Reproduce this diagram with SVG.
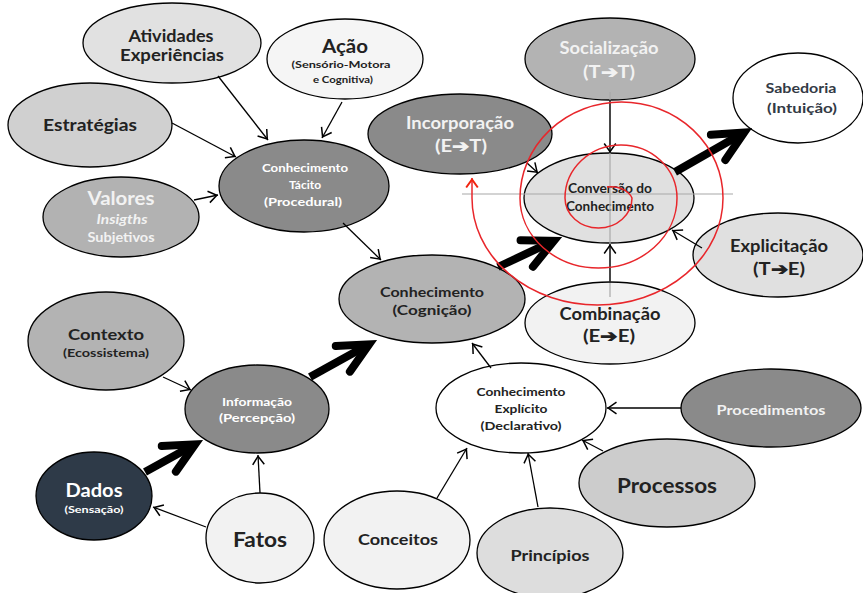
<svg xmlns="http://www.w3.org/2000/svg" width="863" height="593" viewBox="0 0 863 593">
  <style>
    .n { stroke: #000; stroke-width: 1.3; }
    text { font-family: Lato, "Open Sans", "Liberation Sans", sans-serif; font-weight: bold; text-anchor: middle; fill: #222; }
    .w { fill: #ffffff; }
    .lw { fill: #f2f2f2; }
    .thin { stroke: #000; stroke-width: 1.3; fill: none; marker-end: url(#ah); }
    .thick { stroke: #000; stroke-width: 8; fill: none; marker-end: url(#bh); }
    .cross { stroke: #a8a8a8; stroke-width: 1.2; fill: none; }
    .spiral { stroke: #e8262b; stroke-width: 1.5; fill: none; }
  </style>
  <defs>
    <marker id="ah" markerUnits="userSpaceOnUse" viewBox="-12 -8 14 16" markerWidth="14" markerHeight="16" refX="0" refY="0" orient="auto" overflow="visible">
      <path d="M-9.5,-5.8 L-1.2,0 L-9.5,5.8" fill="none" stroke="#000" stroke-width="1.5"/>
    </marker>
    <marker id="rh" markerUnits="userSpaceOnUse" viewBox="-12 -8 14 16" markerWidth="14" markerHeight="16" refX="0" refY="0" orient="auto" overflow="visible">
      <path d="M-9.5,-5.8 L-1.5,0 L-9.5,5.8" fill="none" stroke="#f2240f" stroke-width="2"/>
    </marker>
    <marker id="bh" markerUnits="userSpaceOnUse" viewBox="-40 -20 52 40" markerWidth="52" markerHeight="40" refX="0" refY="0" orient="auto" overflow="visible">
      <path d="M-29,-14.6 L1,0 L-29,14.6" fill="none" stroke="#000" stroke-width="8" stroke-linecap="round" stroke-linejoin="miter"/>
    </marker>
  </defs>

  <g id="atividades">
    <ellipse class="n" cx="172" cy="43" rx="89" ry="40" fill="#e1e1e1"/>
    <text x="171" y="42" font-size="17.5" textLength="85" lengthAdjust="spacingAndGlyphs">Atividades</text>
    <text x="172" y="61" font-size="17.5" textLength="104" lengthAdjust="spacingAndGlyphs">Experiências</text>
  </g>
  <g id="acao">
    <ellipse class="n" cx="345" cy="59" rx="78" ry="40" fill="#f5f5f5"/>
    <text x="345" y="53" font-size="18.5" textLength="46" lengthAdjust="spacingAndGlyphs">Ação</text>
    <text x="341" y="68" font-size="10" textLength="99" lengthAdjust="spacingAndGlyphs">(Sensório-Motora</text>
    <text x="343" y="83" font-size="10" textLength="60" lengthAdjust="spacingAndGlyphs">e Cognitiva)</text>
  </g>
  <g id="estrategias">
    <ellipse class="n" cx="90" cy="125" rx="82" ry="42" fill="#d0d0d0"/>
    <text x="90" y="131" font-size="17.5" textLength="94" lengthAdjust="spacingAndGlyphs">Estratégias</text>
  </g>
  <g id="valores">
    <ellipse class="n" cx="121" cy="217" rx="78" ry="40" fill="#b2b2b2"/>
    <text class="lw" x="121" y="205" font-size="19" textLength="67" lengthAdjust="spacingAndGlyphs">Valores</text>
    <text class="lw" x="122" y="224" font-size="14" font-style="italic" textLength="51" lengthAdjust="spacingAndGlyphs">Insigths</text>
    <text class="lw" x="121" y="242" font-size="14" textLength="67" lengthAdjust="spacingAndGlyphs">Subjetivos</text>
  </g>
  <g id="tacito">
    <ellipse class="n" cx="304" cy="186" rx="85" ry="46" fill="#8a8a8a"/>
    <text class="w" x="305" y="172" font-size="12" textLength="86" lengthAdjust="spacingAndGlyphs">Conhecimento</text>
    <text class="w" x="305" y="189" font-size="12">Tácito</text>
    <text class="w" x="303" y="206" font-size="12" textLength="78" lengthAdjust="spacingAndGlyphs">(Procedural)</text>
  </g>
  <g id="incorporacao">
    <ellipse class="n" cx="460" cy="134" rx="92" ry="40" fill="#8a8a8a"/>
    <text class="lw" x="460" y="129" font-size="16.5" textLength="108" lengthAdjust="spacingAndGlyphs">Incorporação</text>
    <text class="lw" x="461" y="152" font-size="16.5" textLength="52" lengthAdjust="spacingAndGlyphs">(E➔T)</text>
  </g>
  <g id="socializacao">
    <ellipse class="n" cx="610" cy="59" rx="85" ry="41" fill="#b3b3b3"/>
    <text class="lw" x="609" y="54" font-size="16.5" textLength="99" lengthAdjust="spacingAndGlyphs">Socialização</text>
    <text class="lw" x="609" y="78" font-size="16.5" textLength="52" lengthAdjust="spacingAndGlyphs">(T➔T)</text>
  </g>
  <g id="sabedoria">
    <ellipse class="n" cx="798" cy="98" rx="65" ry="45" fill="#ffffff"/>
    <text x="801" y="93" font-size="14" fill="#333a45" style="fill:#333a45" textLength="71" lengthAdjust="spacingAndGlyphs">Sabedoria</text>
    <text x="802" y="113" font-size="14" style="fill:#333a45" textLength="70" lengthAdjust="spacingAndGlyphs">(Intuição)</text>
  </g>
  <g id="conversao">
    <ellipse class="n" cx="609" cy="198" rx="85" ry="45" fill="#e0e0e0"/>
    <text x="610" y="193" font-size="12.5" textLength="84" lengthAdjust="spacingAndGlyphs">Conversão do</text>
    <text x="610" y="211" font-size="12.5" textLength="88" lengthAdjust="spacingAndGlyphs">Conhecimento</text>
  </g>
  <g id="explicitacao">
    <ellipse class="n" cx="778" cy="255" rx="85" ry="42" fill="#e0e0e0"/>
    <text x="779" y="252" font-size="16.5" textLength="98" lengthAdjust="spacingAndGlyphs">Explicitação</text>
    <text x="779" y="275" font-size="16.5" textLength="52" lengthAdjust="spacingAndGlyphs">(T➔E)</text>
  </g>
  <g id="cognicao">
    <ellipse class="n" cx="432" cy="299" rx="93" ry="44" fill="#b3b3b3"/>
    <text x="432" y="297" font-size="13" textLength="104" lengthAdjust="spacingAndGlyphs">Conhecimento</text>
    <text x="432" y="315" font-size="13" textLength="79" lengthAdjust="spacingAndGlyphs">(Cognição)</text>
  </g>
  <g id="combinacao">
    <ellipse class="n" cx="610" cy="323" rx="85" ry="41" fill="#f2f2f2"/>
    <text x="610" y="320" font-size="16.5" textLength="101" lengthAdjust="spacingAndGlyphs">Combinação</text>
    <text x="609" y="342" font-size="16.5" textLength="52" lengthAdjust="spacingAndGlyphs">(E➔E)</text>
  </g>
  <g id="contexto">
    <ellipse class="n" cx="106" cy="341" rx="78" ry="49" fill="#b3b3b3"/>
    <text x="106" y="340" font-size="16" textLength="76" lengthAdjust="spacingAndGlyphs">Contexto</text>
    <text x="106" y="357" font-size="11" textLength="86" lengthAdjust="spacingAndGlyphs">(Ecossistema)</text>
  </g>
  <g id="informacao">
    <ellipse class="n" cx="257" cy="409" rx="72" ry="44" fill="#8a8a8a"/>
    <text class="w" x="257" y="406" font-size="12" textLength="70" lengthAdjust="spacingAndGlyphs">Informação</text>
    <text class="w" x="257" y="422" font-size="12" textLength="76" lengthAdjust="spacingAndGlyphs">(Percepção)</text>
  </g>
  <g id="dados">
    <ellipse class="n" cx="94" cy="496" rx="58" ry="44" fill="#2e3a48"/>
    <text class="w" x="94" y="497" font-size="18" textLength="57" lengthAdjust="spacingAndGlyphs">Dados</text>
    <text class="w" x="94" y="513" font-size="10" textLength="59" lengthAdjust="spacingAndGlyphs">(Sensação)</text>
  </g>
  <g id="fatos">
    <ellipse class="n" cx="260" cy="538" rx="54" ry="45" fill="#f2f2f2"/>
    <text x="260" y="547" font-size="21" textLength="54" lengthAdjust="spacingAndGlyphs">Fatos</text>
  </g>
  <g id="conceitos">
    <ellipse class="n" cx="397" cy="540" rx="73" ry="49" fill="#f2f2f2"/>
    <text x="398" y="545" font-size="15.5" textLength="80" lengthAdjust="spacingAndGlyphs">Conceitos</text>
  </g>
  <g id="explicito">
    <ellipse class="n" cx="521" cy="408" rx="85" ry="45" fill="#ffffff"/>
    <text x="521" y="396" font-size="12" textLength="89" lengthAdjust="spacingAndGlyphs">Conhecimento</text>
    <text x="521" y="413" font-size="12" textLength="53" lengthAdjust="spacingAndGlyphs">Explícito</text>
    <text x="521" y="430" font-size="12" textLength="81" lengthAdjust="spacingAndGlyphs">(Declarativo)</text>
  </g>
  <g id="procedimentos">
    <ellipse class="n" cx="771" cy="408" rx="90" ry="39" fill="#8a8a8a"/>
    <text class="lw" x="771" y="415" font-size="14" textLength="109" lengthAdjust="spacingAndGlyphs">Procedimentos</text>
  </g>
  <g id="processos">
    <ellipse class="n" cx="667" cy="483" rx="88" ry="44" fill="#cccccc"/>
    <text x="667" y="493" font-size="21" textLength="100" lengthAdjust="spacingAndGlyphs">Processos</text>
  </g>
  <g id="principios">
    <ellipse class="n" cx="550" cy="553" rx="73" ry="45" fill="#dddddd"/>
    <text x="550" y="561" font-size="16" textLength="79" lengthAdjust="spacingAndGlyphs">Princípios</text>
  </g>

  <!-- guide cross through the conversion hub -->
  <g id="guides">
    <line class="cross" x1="462" y1="194" x2="733" y2="194"/>
    <line class="cross" x1="610" y1="92" x2="610" y2="297"/>
  </g>

  <g id="connectors">
    <line class="thin" x1="218" y1="76" x2="268" y2="140"/>
    <line class="thin" x1="342" y1="102" x2="322" y2="138"/>
    <line class="thin" x1="172" y1="123" x2="236" y2="157"/>
    <line class="thin" x1="194" y1="200" x2="218" y2="195"/>
    <line class="thin" x1="343" y1="223" x2="381" y2="260"/>
    <line class="thin" x1="527" y1="163" x2="538" y2="173"/>
    <line class="thin" x1="610" y1="100" x2="610" y2="153"/>
    <line class="thin" x1="610" y1="283" x2="610" y2="244"/>
    <line class="thin" x1="702" y1="248" x2="672" y2="230"/>
    <line class="thin" x1="163" y1="377" x2="191" y2="390"/>
    <line class="thin" x1="260" y1="493" x2="258" y2="455"/>
    <line class="thin" x1="206" y1="527" x2="153" y2="507"/>
    <line class="thin" x1="437" y1="498" x2="467" y2="448"/>
    <line class="thin" x1="538" y1="507" x2="528" y2="453"/>
    <line class="thin" x1="603" y1="451" x2="582" y2="440"/>
    <line class="thin" x1="681" y1="408" x2="607" y2="408"/>
    <line class="thin" x1="491" y1="368" x2="472" y2="343"/>
    <!-- main progression -->
    <line class="thick" x1="145" y1="472" x2="194.2" y2="444.8"/>
    <line class="thick" x1="310" y1="377" x2="368.2" y2="344.8"/>
    <line class="thick" x1="498" y1="267" x2="553" y2="241.2"/>
    <line class="thick" x1="675" y1="172" x2="743.3" y2="133"/>
  </g>

  <!-- knowledge spiral -->
  <g id="spiral">
    <path class="spiral" d="M607,187 A22 17 0 0 1 632,198 A33.5 30 0 0 1 565,198 A56 53 0 0 1 677,198 A78.5 70 0 0 1 520,198 A101.5 96 0 0 1 723,198 A125.5 107 0 0 1 472,198"/>
    <path d="M472,198 L472,178" fill="none" stroke="#e8262b" stroke-width="1.5" marker-end="url(#rh)"/>
  </g>
</svg>
